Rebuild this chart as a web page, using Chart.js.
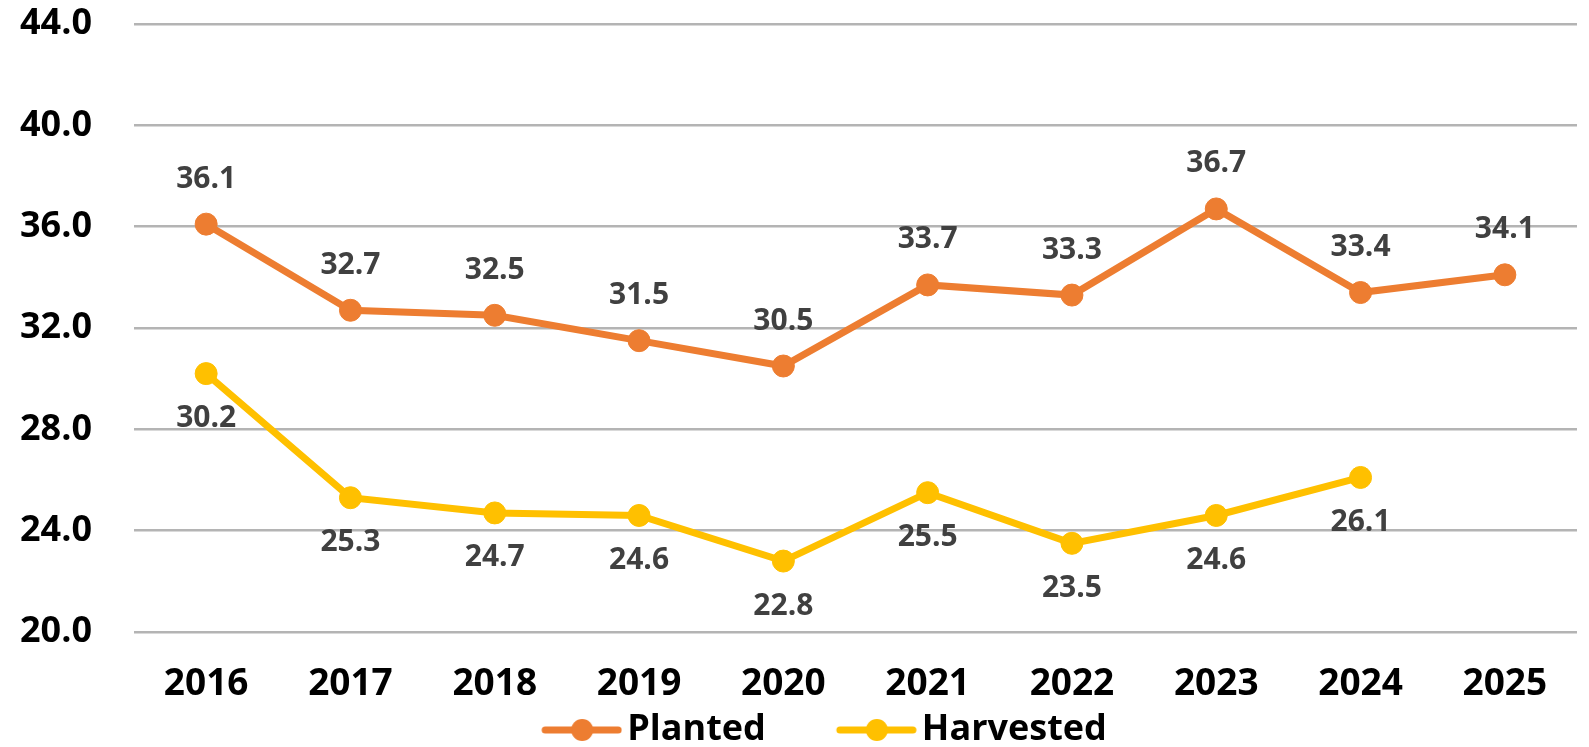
<!DOCTYPE html>
<html>
<head>
<meta charset="utf-8">
<script src="https://cdn.jsdelivr.net/npm/chart.js@4.4.1/dist/chart.umd.min.js"></script>
<style>
  html, body { margin: 0; padding: 0; background: #ffffff; }
  #wrap { width: 1589px; height: 747px; position: relative; }
</style>
</head>
<body>
<div id="wrap"><canvas id="c" width="1589" height="747"></canvas></div>
<script>
const years = ['2016', '2017', '2018', '2019', '2020', '2021', '2022', '2023', '2024', '2025'];
const plantedValues = [36.1, 32.7, 32.5, 31.5, 30.5, 33.7, 33.3, 36.7, 33.4, 34.1];
const harvestedValues = [30.2, 25.3, 24.7, 24.6, 22.8, 25.5, 23.5, 24.6, 26.1, null];
const yTickValues = [20, 24, 28, 32, 36, 40, 44];
const seriesNames = ['Planted', 'Harvested'];

const ORANGE = '#ED7D31';
const YELLOW = '#FFC000';
const FONT = "'Open Sans', 'DejaVu Sans', sans-serif";

function legendIcon(color) {
  const w = 154, h = 26;
  const cv = document.createElement('canvas');
  cv.width = w; cv.height = h;
  const g = cv.getContext('2d');
  g.strokeStyle = color;
  g.lineWidth = 7;
  g.lineCap = 'round';
  g.beginPath();
  g.moveTo(w - 77, h / 2);
  g.lineTo(w - 4, h / 2);
  g.stroke();
  g.fillStyle = color;
  g.beginPath();
  g.arc(w - 40, h / 2, 11, 0, Math.PI * 2);
  g.fill();
  return cv;
}
const legendIcons = [legendIcon(ORANGE), legendIcon(YELLOW)];

const valueLabels = {
  id: 'valueLabels',
  afterDatasetsDraw(chart) {
    const ctx = chart.ctx;
    ctx.save();
    ctx.font = "bold 30px " + FONT;
    ctx.fillStyle = '#404040';
    ctx.textAlign = 'center';
    ctx.textBaseline = 'middle';
    chart.data.datasets.forEach((ds, di) => {
      const meta = chart.getDatasetMeta(di);
      meta.data.forEach((pt, i) => {
        const v = ds.data[i];
        if (v === null || v === undefined) return;
        const dy = di === 0 ? -45 : 45;
        ctx.fillText(v.toFixed(1), pt.x, pt.y + dy);
      });
    });
    ctx.restore();
  }
};

new Chart(document.getElementById('c'), {
  type: 'line',
  data: {
    labels: years,
    datasets: [
      {
        label: seriesNames[0],
        data: plantedValues,
        borderColor: ORANGE,
        backgroundColor: ORANGE,
        borderWidth: 7,
        pointRadius: 11,
        pointBackgroundColor: ORANGE,
        pointBorderColor: ORANGE,
        pointBorderWidth: 1,
        tension: 0
      },
      {
        label: seriesNames[1],
        data: harvestedValues,
        borderColor: YELLOW,
        backgroundColor: YELLOW,
        borderWidth: 7,
        pointRadius: 11,
        pointBackgroundColor: YELLOW,
        pointBorderColor: YELLOW,
        pointBorderWidth: 1,
        tension: 0,
        spanGaps: false
      }
    ]
  },
  options: {
    responsive: false,
    animation: false,
    layout: { padding: { top: 24, bottom: -11, left: 0, right: 1 } },
    scales: {
      x: {
        offset: true,
        grid: { display: false, drawTicks: false },
        border: { display: false },
        ticks: {
          color: '#000000',
          font: { family: FONT, size: 37, weight: 'bold' },
          padding: 30,
          maxRotation: 0,
          autoSkip: false
        },
        afterFit(scale) { scale.height = 70; }
      },
      y: {
        min: 20,
        max: 44,
        afterBuildTicks(scale) { scale.ticks = yTickValues.map(v => ({ value: v })); },
        grid: {
          color: '#b4b4b4',
          lineWidth: 2.5,
          drawTicks: true,
          tickLength: 42,
          tickColor: 'rgba(0,0,0,0)'
        },
        border: { display: false },
        ticks: {
          color: '#000000',
          font: { family: FONT, size: 36, weight: 'bold' },
          padding: 0,
          callback: (v) => Number(v).toFixed(1)
        },
        afterFit(scale) { scale.width = 134; }
      }
    },
    plugins: {
      legend: {
        position: 'bottom',
        labels: {
          usePointStyle: true,
          pointStyleWidth: 128,
          padding: 10,
          color: '#000000',
          font: { family: FONT, size: 36, weight: 'bold' },
          generateLabels(chart) {
            const items = Chart.defaults.plugins.legend.labels.generateLabels(chart);
            items.forEach((it, i) => { it.pointStyle = legendIcons[i]; it.fontColor = '#000000'; });
            return items;
          }
        }
      },
      tooltip: { enabled: false }
    }
  },
  plugins: [valueLabels]
});
</script>
</body>
</html>
